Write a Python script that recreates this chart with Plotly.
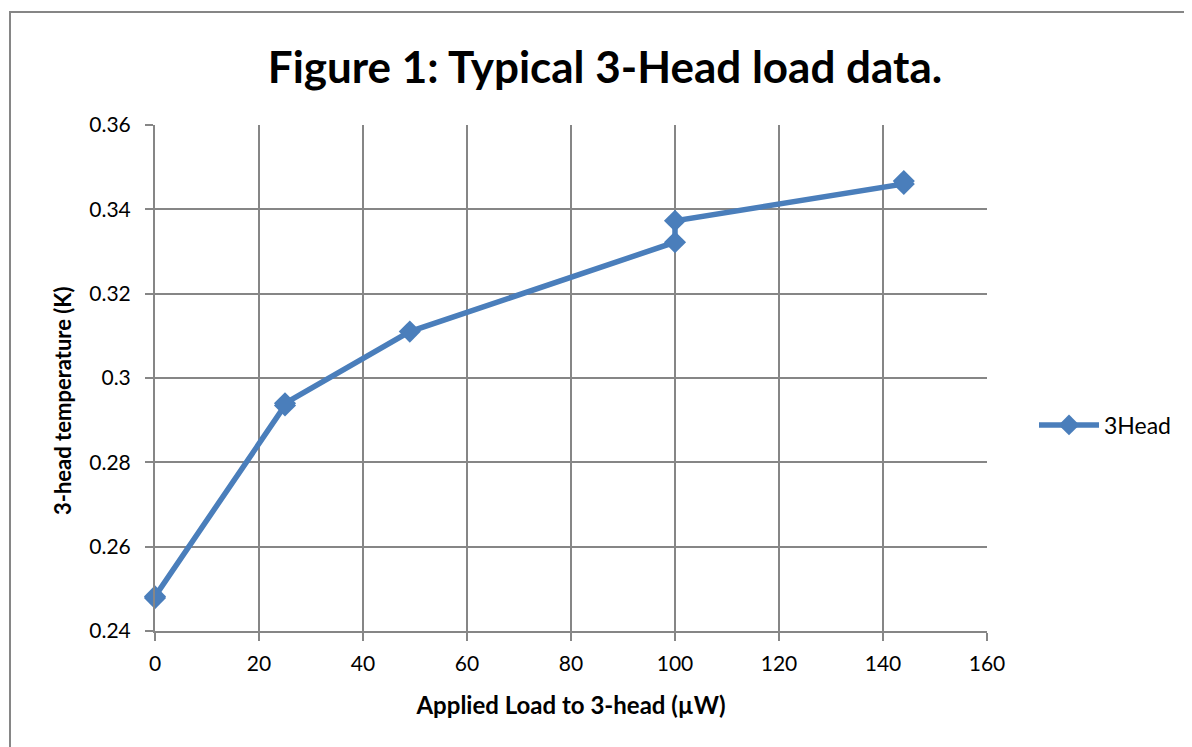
import plotly.graph_objects as go

load_uw = [0, 0, 25, 25, 49, 100, 100, 144, 144]
temp_k = [0.2478, 0.2482, 0.2935, 0.2940, 0.3110, 0.3322, 0.3373, 0.3460, 0.3467]
x_ticks = [0, 20, 40, 60, 80, 100, 120, 140, 160]
y_ticks = [0.24, 0.26, 0.28, 0.30, 0.32, 0.34, 0.36]
y_labels = ["0.24", "0.26", "0.28", "0.3", "0.32", "0.34", "0.36"]

W, H = 1192, 747
OFF = 8  # page offset of the rendered figure
L, R, T, B = 155 - OFF, 987 - OFF, 125 - OFF, 631 - OFF
pw, ph = R - L, B - T

FONT = "Lato"
GRID = "#868686"
BLUE = "#4a7ebb"

fig = go.Figure()
fig.add_trace(go.Scatter(
    x=load_uw, y=temp_k, mode="lines+markers", name="3Head",
    line=dict(color=BLUE, width=5.5),
    marker=dict(symbol="diamond", size=17, color=BLUE),
    cliponaxis=False,
))

fig.update_layout(
    width=W, height=H,
    margin=dict(l=L, r=W - R, t=T, b=H - B, pad=0),
    paper_bgcolor="white", plot_bgcolor="white",
    font=dict(family=FONT, color="#000000"),
    title=dict(text="<b>Figure 1: Typical 3-Head load data.</b>",
               x=(605 - OFF) / W, xanchor="center", y=1 - (68 - OFF) / H, yanchor="middle",
               font=dict(family=FONT, size=44, color="#000000")),
    showlegend=True,
    legend=dict(x=(1034 - OFF - L) / pw, xanchor="left", y=(B - (425 - OFF)) / ph, yanchor="middle",
                font=dict(family=FONT, size=23, color="#000000"),
                bgcolor="rgba(0,0,0,0)", itemwidth=60),
    xaxis=dict(range=[0, 160], tickvals=x_ticks, ticktext=[str(v) for v in x_ticks],
               showgrid=True, gridcolor=GRID, gridwidth=2,
               showline=True, linecolor=GRID, linewidth=2,
               ticks="outside", ticklen=8, tickwidth=2, tickcolor=GRID,
               tickfont=dict(family=FONT, size=21, color="#000000"),
               ticklabelstandoff=5, zeroline=False, mirror=False,
               title=dict(text="<b>Applied Load to 3-head (µW)</b>",
                          font=dict(family=FONT, size=24, color="#000000"), standoff=23)),
    yaxis=dict(range=[0.24, 0.36], tickvals=y_ticks, ticktext=y_labels,
               showgrid=True, gridcolor=GRID, gridwidth=2,
               showline=True, linecolor=GRID, linewidth=2,
               ticks="outside", ticklen=8, tickwidth=2, tickcolor=GRID,
               tickfont=dict(family=FONT, size=21, color="#000000"),
               ticklabelstandoff=10, zeroline=False),
)

fig.add_annotation(text="<b>3-head temperature (K)</b>", textangle=-90,
                   xref="paper", yref="paper",
                   x=(62 - OFF - L) / pw, y=(B - (401 - OFF)) / ph,
                   xanchor="center", yanchor="middle", showarrow=False,
                   font=dict(family=FONT, size=22, color="#000000"))

fig.add_shape(type="rect", xref="paper", yref="paper",
              x0=(10 - OFF - L) / pw, x1=(1250 - L) / pw,
              y0=(B - 800) / ph, y1=(B - (12 - OFF)) / ph,
              line=dict(color=GRID, width=2), fillcolor="rgba(0,0,0,0)", layer="below")

fig.write_html("out.html")
